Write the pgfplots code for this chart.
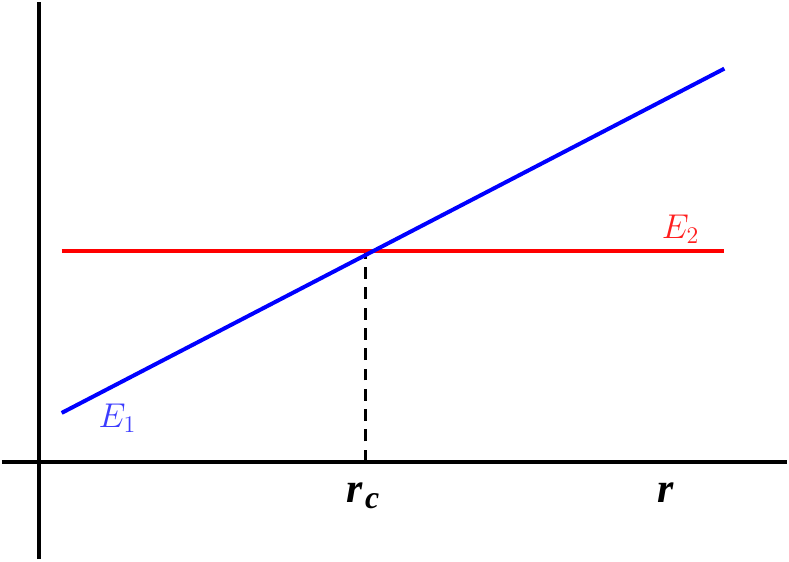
\documentclass[border=0pt]{standalone}
\usepackage{fontspec}
\newfontfamily\rfont{Liberation Serif}
\usepackage{pgfplots}
\pgfplotsset{compat=1.18}
\begin{document}
\begin{tikzpicture}
\begin{axis}[
  width=394.5pt, height=280pt, scale only axis,
  xmin=0, xmax=789, ymin=0, ymax=560,
  hide axis, clip=false,
]
\path (axis cs:0,0) rectangle (axis cs:789,560);
% axes
\addplot[black, line width=2pt] coordinates {(37,0) (37,560)};
\addplot[black, line width=2pt] coordinates {(0,98) (789,98)};
% dashed
\addplot[black, line width=1.5pt, dash pattern=on 6pt off 4.2pt] coordinates {(365,98) (365,308)};
% E2
\addplot[color={rgb,255:red,255;green,0;blue,0}, line width=2pt] coordinates {(60,310) (726,310)};
% E1
\addplot[color={rgb,255:red,0;green,0;blue,255}, line width=2pt] coordinates {(60,147) (726,493)};
\node[text={rgb,255:red,60;green,60;blue,255}, font=\fontsize{17.5}{20}\selectfont] at (axis cs:116,142) {$E_1$};
\node[text={rgb,255:red,255;green,30;blue,30}, font=\fontsize{17.5}{20}\selectfont] at (axis cs:682,332) {$E_2$};
\node[font=\fontsize{21}{24}\selectfont\rfont\bfseries\itshape, inner sep=0pt, anchor=base] at (axis cs:363,57) {r\kern1pt\raisebox{-0.3ex}{\fontsize{16}{18}\selectfont c}};
\node[font=\fontsize{21}{24}\selectfont\rfont\bfseries\itshape, inner sep=0pt, anchor=base] at (axis cs:667,57) {r};
\end{axis}
\end{tikzpicture}
\end{document}
